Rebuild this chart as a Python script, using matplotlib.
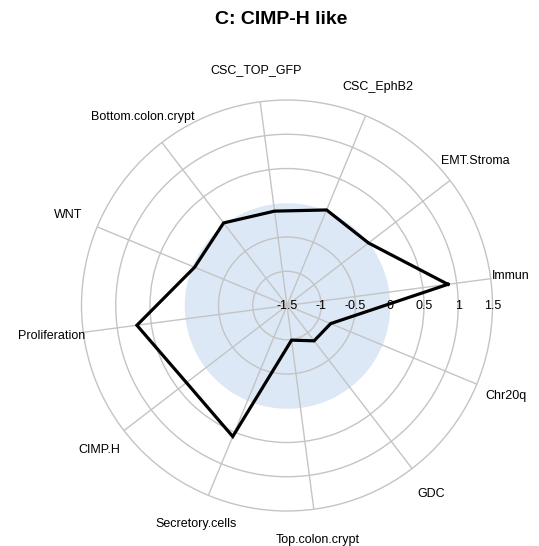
import matplotlib
matplotlib.use("Agg")
import matplotlib.pyplot as plt
import numpy as np

# signature scores for the CIMP-H like group, counter-clockwise from Immun
signatures = ["Immun", "EMT.Stroma", "CSC_EphB2", "CSC_TOP_GFP",
              "Bottom.colon.crypt", "WNT", "Proliferation", "CIMP.H",
              "Secretory.cells", "Top.colon.crypt", "GDC", "Chr20q"]
scores = [0.87, 0.00, 0.01, -0.11, 0.02, -0.04, 0.71, 0.35, 0.57,
          -0.99, -0.85, -0.81]

radial_ticks = [-1.5, -1, -0.5, 0, 0.5, 1, 1.5]
radial_labels = ["-1.5", "-1", "-0.5", "0", "0.5", "1", "1.5"]
ring_values = [-1, -0.5, 0.5, 1]
r_min, r_max = -1.5, 1.5
zero_level = 0.0
start_deg = 7.5

plt.rcParams['font.family'] = ['Liberation Sans', 'DejaVu Sans']

grid_col = "#c4c4c4"
fill_col = "#dde8f6"


def main():
    fig = plt.figure(figsize=(5.39, 5.46), dpi=100)
    ax = fig.add_axes([0.1512, 0.0641, 0.7625, 0.7527], projection="polar")

    n = len(signatures)
    angles = np.deg2rad(start_deg + 360.0 / n * np.arange(n))

    ax.set_ylim(r_min, r_max)

    # shaded disc up to the zero level
    t = np.linspace(0, 2 * np.pi, 361)
    ax.fill_between(t, r_min, zero_level, color=fill_col, lw=0, zorder=0.5)

    # grid: rings and spokes
    ax.set_rgrids(ring_values, labels=[""] * len(ring_values))
    ax.set_thetagrids(np.rad2deg(angles), labels=[""] * n)
    ax.grid(True, color=grid_col, lw=1.0)
    ax.spines["polar"].set_color(grid_col)
    ax.spines["polar"].set_linewidth(1.0)
    ax.tick_params(length=0)
    ax.set_facecolor("white")

    # score polygon
    th = np.append(angles, angles[0])
    vals = np.append(scores, scores[0])
    ax.plot(th, vals, color="black", lw=2.3, solid_joinstyle="miter", zorder=3)

    # ring values along the horizontal
    for v, lab in zip(radial_ticks, radial_labels):
        ax.text(0, v, lab, ha="center", va="center", fontsize=9, zorder=4)

    # signature names outside the outer ring (Immun pulled in to fit)
    for a, name in zip(angles, signatures):
        r_lab = 1.80 if name == "Immun" else 1.96
        ax.text(a, r_lab, name, ha="center", va="center", fontsize=9,
                clip_on=False)

    fig.text(0.521, 1 - 19 / 546, "C: CIMP-H like", ha="center", va="center",
             fontsize=14, fontweight="bold")

    fig.savefig("out.png", dpi=100)


if __name__ == "__main__":
    main()
